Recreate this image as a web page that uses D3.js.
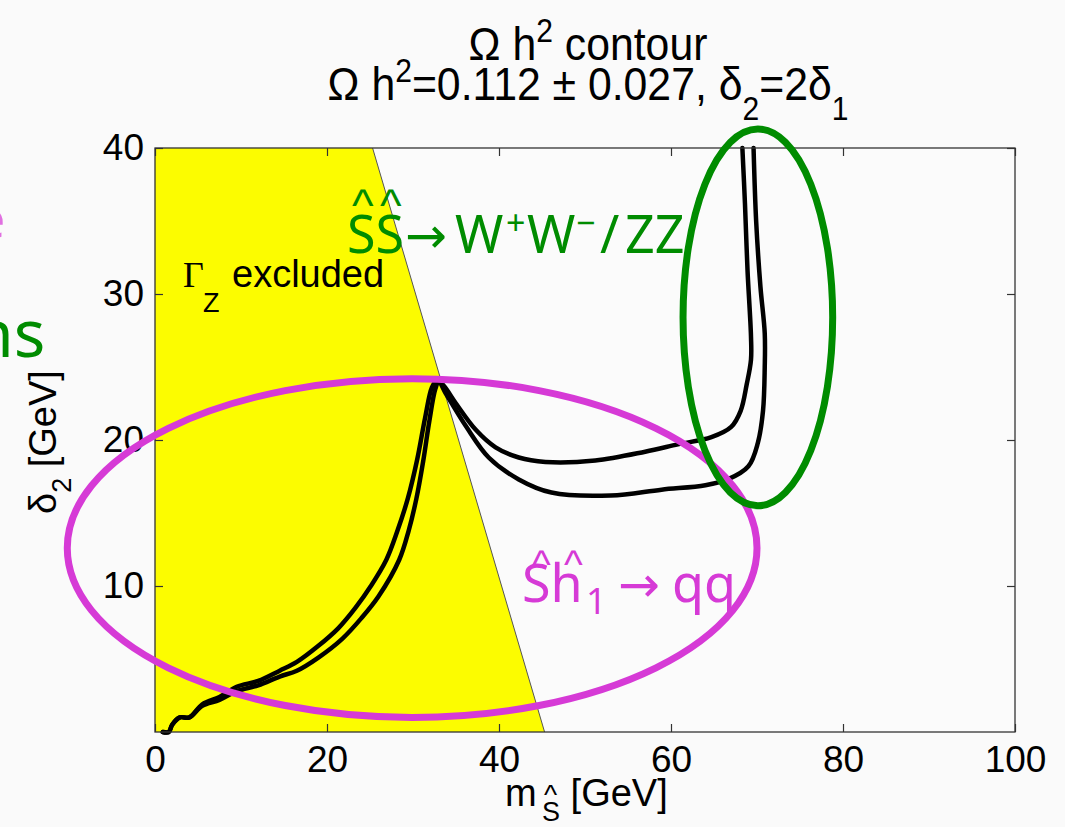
<!DOCTYPE html>
<html>
<head>
<meta charset="utf-8">
<script src="https://cdn.jsdelivr.net/npm/d3@7"></script>
<style>
  html, body { margin: 0; padding: 0; background: #fafafa; }
  svg { display: block; }
</style>
</head>
<body>
<svg id="chart" width="1065" height="827"></svg>
<script>
// Axis ticks
const xTicks = [0, 20, 40, 60, 80, 100];
const yTicks = [10, 20, 30, 40];

// Z-width excluded band: boundary line from the top edge down to the x axis
const excludedTop = [25.3, 40];
const excludedBottom = [45.3, 0];

// Relic-density contours (m_S [GeV], delta_2 [GeV])
const contourUpper = [
  [0.9, 0], [1.6, 0], [2.0, 0.5], [2.9, 1.0], [4.0, 1.0], [5.5, 1.9], [7.5, 2.4],
  [9.5, 3.1], [12, 3.5], [14.5, 4.2], [16.5, 4.8], [19, 5.9], [21.3, 7.1],
  [23.3, 8.5], [25.1, 10.0], [26.9, 11.8], [28.2, 13.8], [29.4, 16], [30.5, 18.7],
  [31.4, 21.5], [32.2, 23.6], [32.8, 24.1], [33.6, 23.7], [35, 22.5], [37.3, 20.7],
  [39.6, 19.5], [42.3, 18.8], [45.4, 18.5], [51.2, 18.6], [57, 19.2], [60.8, 19.7],
  [64.7, 20.2], [67, 20.9], [68.1, 22], [68.8, 23.8], [69.3, 25.5], [69.3, 27.1],
  [68.9, 31.6], [68.6, 36.2], [68.3, 40]
];
const contourLower = [
  [0.9, 0], [1.6, 0], [2.0, 0.5], [2.9, 1.0], [4.0, 1.0], [5.5, 1.8], [7.5, 2.2],
  [9.5, 2.8], [12, 3.2], [14.5, 3.8], [16.5, 4.2], [19, 5.1], [21.8, 6.4],
  [24.0, 7.8], [26.0, 9.3], [28.4, 11.8], [29.5, 13.8], [30.4, 16], [31.2, 18.6],
  [31.9, 21.3], [32.6, 23.5], [33, 24], [33.8, 23.2], [36.2, 20.9], [38.8, 18.8],
  [42.3, 17.3], [46.1, 16.4], [53, 16.2], [58.9, 16.6], [64, 16.9], [66.6, 17.3],
  [69, 18.2], [70.1, 19.8], [70.7, 22], [70.9, 25], [70.9, 27.3], [70.4, 30.5],
  [69.9, 35], [69.6, 40]
];

// Highlight ellipses in data units: [cx, cy, rx, ry]
const annihilationRegion = [29.9, 12.6, 40.1, 11.6];   // S h1 -> q q
const gaugeRegion = [70.1, 28.4, 8.7, 12.9];            // S S -> W W / Z Z

const svg = d3.select("#chart");
const plotLeft = 155, plotRight = 1015, plotTop = 148, plotBottom = 732;

const x = d3.scaleLinear().domain([0, 100]).range([plotLeft, plotRight]);
const y = d3.scaleLinear().domain([0, 40]).range([plotBottom, plotTop]);

const SANS = "'Liberation Sans', Arial, sans-serif";
const SLIDE = "'Noto Sans', 'Open Sans', sans-serif";
const ARROW = "'DejaVu Sans', sans-serif";
const MAGENTA = "#d63ad6";
const GREEN = "#008c00";

// Plot background
svg.append("rect").attr("x", plotLeft).attr("y", plotTop)
  .attr("width", plotRight - plotLeft).attr("height", plotBottom - plotTop)
  .attr("fill", "#fbfbfb");

// Excluded region
const band = [[0, 0], [0, 40], excludedTop, excludedBottom];
svg.append("path")
  .attr("d", d3.line().x(d => x(d[0])).y(d => y(d[1]))(band) + "Z")
  .attr("fill", "#fcfc00");
svg.append("line")
  .attr("x1", x(excludedTop[0])).attr("y1", y(excludedTop[1]))
  .attr("x2", x(excludedBottom[0])).attr("y2", y(excludedBottom[1]))
  .attr("stroke", "#555").attr("stroke-width", 1);

// Contours
const line = d3.line().x(d => x(d[0])).y(d => y(d[1])).curve(d3.curveCatmullRom.alpha(0.5));
[contourUpper, contourLower].forEach(c => {
  svg.append("path").attr("d", line(c))
    .attr("fill", "none").attr("stroke", "#000")
    .attr("stroke-width", 4.5).attr("stroke-linejoin", "round").attr("stroke-linecap", "round");
});

// Axes with inward ticks on all four sides
function styleAxis(g) {
  g.select(".domain").remove();
  g.selectAll(".tick line").attr("stroke", "#333").attr("stroke-width", 1.2);
  g.selectAll(".tick text").attr("fill", "#000")
    .style("font-family", SANS).style("font-size", "37px");
}
svg.append("g").attr("transform", `translate(0,${plotBottom})`)
  .call(d3.axisBottom(x).tickValues(xTicks).tickSize(-8).tickSizeOuter(0).tickPadding(14))
  .call(styleAxis);
svg.append("g").attr("transform", `translate(${plotLeft},0)`)
  .call(d3.axisLeft(y).tickValues(yTicks).tickSize(-8).tickSizeOuter(0).tickPadding(11))
  .call(styleAxis);
svg.append("g").attr("transform", `translate(0,${plotTop})`)
  .call(d3.axisTop(x).tickValues(xTicks).tickSize(-8).tickSizeOuter(0).tickFormat(""))
  .call(styleAxis);
svg.append("g").attr("transform", `translate(${plotRight},0)`)
  .call(d3.axisRight(y).tickValues(yTicks).tickSize(-8).tickSizeOuter(0).tickFormat(""))
  .call(styleAxis);

svg.append("rect").attr("x", plotLeft).attr("y", plotTop)
  .attr("width", plotRight - plotLeft).attr("height", plotBottom - plotTop)
  .attr("fill", "none").attr("stroke", "#333").attr("stroke-width", 1.3);

// Rich text helper: parts = [text, mode] with mode '', 'sup' or 'sub'
function rich(sel, parts, size, supShift, subShift) {
  let offset = 0;
  parts.forEach(([t, mode]) => {
    const target = mode === "sup" ? -supShift : mode === "sub" ? subShift : 0;
    sel.append("tspan").text(t)
      .attr("dy", target - offset)
      .style("font-size", (mode ? Math.round(size * 0.7) : size) + "px");
    offset = target;
  });
  return sel;
}

// Title (slightly condensed face)
rich(svg.append("text").attr("transform", "translate(588,60) scale(0.91,1)")
  .attr("text-anchor", "middle").style("font-family", SANS),
  [["Ω h", ""], ["2", "sup"], [" contour", ""]], 47, 18, 20);
rich(svg.append("text").attr("transform", "translate(588,100) scale(0.91,1)")
  .attr("text-anchor", "middle").style("font-family", SANS),
  [["Ω h", ""], ["2", "sup"], ["=0.112 ± 0.027, δ", ""], ["2", "sub"], ["=2δ", ""], ["1", "sub"]], 47, 18, 20);

// x-axis label: m with hatted S subscript
const xl = svg.append("text").attr("x", 505).attr("y", 806)
  .style("font-family", SANS).style("font-size", "38px");
xl.append("tspan").text("m");
xl.append("tspan").attr("x", 544).attr("dy", -2).style("font-size", "28px").text("^");
xl.append("tspan").attr("x", 542).attr("dy", 17).style("font-size", "27px").text("S");
xl.append("tspan").attr("dy", -15).text(" [GeV]");

const yl = svg.append("text").attr("transform", "translate(56,514) rotate(-90)")
  .style("font-family", SANS);
rich(yl, [["δ", ""], ["2", "sub"], [" [GeV]", ""]], 38, 15, 15);

// Excluded region label
svg.append("text").attr("x", 183).attr("y", 287)
  .style("font-family", "'Liberation Serif', serif").style("font-size", "36px").text("Γ");
svg.append("text").attr("x", 203).attr("y", 312)
  .style("font-family", SANS).style("font-size", "27px").text("Z");
svg.append("text").attr("x", 232).attr("y", 287)
  .style("font-family", SANS).style("font-size", "38px").text("excluded");

// Highlight ellipses
function ellipse([cx, cy, rx, ry], color) {
  svg.append("ellipse")
    .attr("cx", x(cx)).attr("cy", y(cy))
    .attr("rx", x(rx) - x(0)).attr("ry", y(0) - y(ry))
    .attr("fill", "none").attr("stroke", color).attr("stroke-width", 7);
}
ellipse(annihilationRegion, MAGENTA);
ellipse(gaugeRegion, GREEN);

// Channel annotations (hats drawn as raised carets inside the same text)
const g1 = svg.append("text").attr("y", 253).attr("fill", GREEN)
  .style("font-family", SLIDE).style("font-size", "52px");
g1.append("tspan").attr("x", 352).attr("dy", -32)
  .style("font-family", SANS).style("font-size", "46px").text("^");
g1.append("tspan").attr("x", 380)
  .style("font-family", SANS).style("font-size", "46px").text("^");
g1.append("tspan").attr("x", 347).attr("dy", 32).text("SS");
g1.append("tspan").attr("x", 405).style("font-family", ARROW).style("font-size", "50px").text("→");
g1.append("tspan").attr("x", 455).text("W");
g1.append("tspan").attr("x", 506).attr("dy", -18).style("font-size", "34px").text("+");
g1.append("tspan").attr("x", 527).attr("dy", 18).text("W");
g1.append("tspan").attr("x", 576).attr("dy", -18).style("font-size", "34px").text("−");
g1.append("tspan").attr("x", 600).attr("dy", 18).text("/");
g1.append("tspan").attr("x", 625).text("ZZ");

const p1 = svg.append("text").attr("y", 602).attr("fill", MAGENTA)
  .style("font-family", SLIDE).style("font-size", "52px");
p1.append("tspan").attr("x", 532).attr("dy", -24)
  .style("font-family", SANS).style("font-size", "40px").text("^");
p1.append("tspan").attr("x", 564)
  .style("font-family", SANS).style("font-size", "40px").text("^");
p1.append("tspan").attr("x", 522).attr("dy", 24).text("Sh");
p1.append("tspan").attr("x", 586).attr("dy", 12).style("font-size", "36px").text("1");
p1.append("tspan").attr("x", 618).attr("dy", -12).style("font-family", ARROW).style("font-size", "50px").text("→");
p1.append("tspan").attr("x", 672).text("qq");

// Slide text running in from the left margin
svg.append("text").attr("x", -24).attr("y", 238).attr("fill", "#e070e0")
  .style("font-family", SLIDE).style("font-size", "52px").text("e");
svg.append("text").attr("x", -27).attr("y", 357).attr("fill", GREEN)
  .style("font-family", SLIDE).style("font-size", "66px").text("ns");
</script>
</body>
</html>
